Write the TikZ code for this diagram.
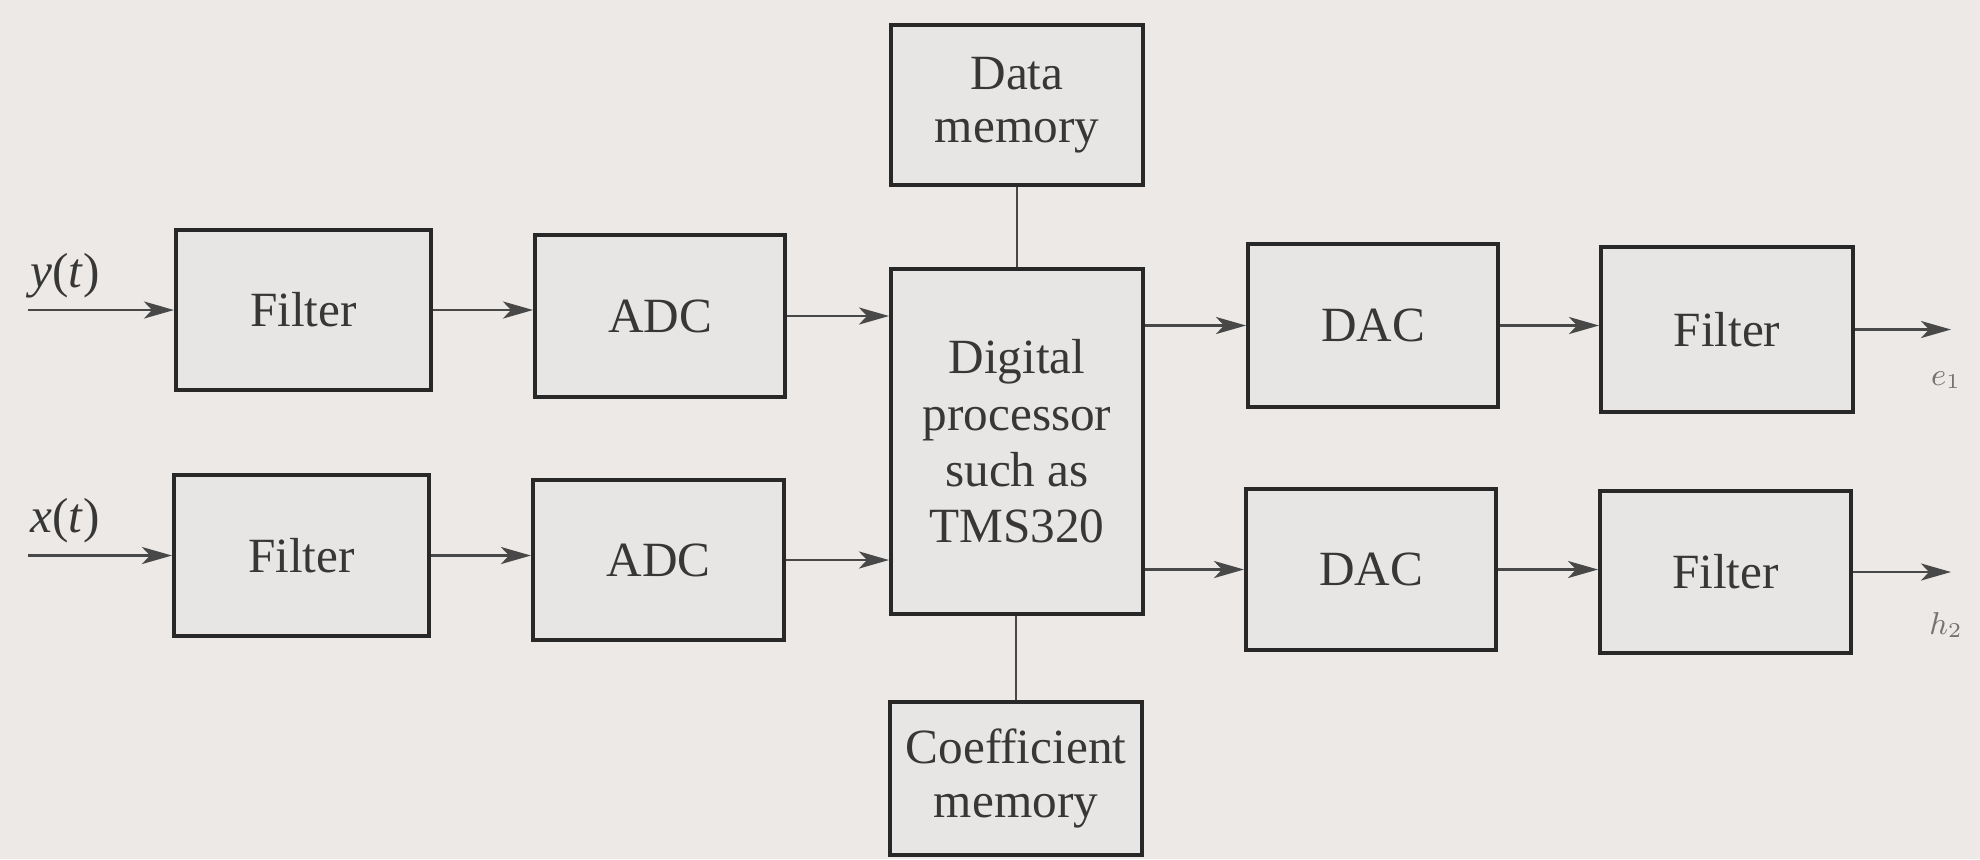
\documentclass[tikz,border=0pt]{standalone}
\usepackage{fontspec}
\setmainfont{Liberation Serif}
\usetikzlibrary{arrows.meta}
\definecolor{bg}{RGB}{236,233,230}
\definecolor{boxfill}{RGB}{232,230,228}
\definecolor{ink}{RGB}{40,40,40}
\definecolor{txt}{RGB}{55,55,55}
\tikzset{
  blk/.style={draw=ink, line width=1.1pt, fill=boxfill, inner sep=0pt, align=center,
    text=txt, font=\fontsize{14}{15.5}\selectfont},
  sig/.style={draw=ink!85, line width=0.8pt, -{Stealth[length=3mm,width=1.7mm,inset=0.8mm]}},
  lnk/.style={draw=ink!85, line width=0.8pt},
  lbl/.style={text=txt, inner sep=0pt, font=\fontsize{14}{15}\selectfont},
  olbl/.style={text=txt!70, inner sep=0pt, font=\fontsize{9}{10}\selectfont},
}
\begin{document}
\begin{tikzpicture}[x=0.01cm,y=-0.01cm]
\fill[bg] (0,0) rectangle (1980,859);
\useasboundingbox (0,0) rectangle (1980,859);

\node[blk, minimum width=2.55cm, minimum height=1.60cm] (f1) at (303.5,310) {Filter};
\node[blk, minimum width=2.50cm, minimum height=1.62cm] (adc1) at (660,316) {ADC};
\node[blk, minimum width=2.55cm, minimum height=1.61cm] (f2) at (301.5,555.5) {Filter};
\node[blk, minimum width=2.51cm, minimum height=1.60cm] (adc2) at (658.5,560) {ADC};
\node[blk, minimum width=2.52cm, minimum height=1.60cm, font=\fontsize{14}{15}\selectfont] (dm) at (1017,105) {Data\\memory};
\node[blk, minimum width=2.52cm, minimum height=3.45cm, font=\fontsize{14}{16}\selectfont] (proc) at (1017,441.5) {Digital\\processor\\such as\\TMS320};
\node[blk, minimum width=2.52cm, minimum height=1.53cm, font=\fontsize{14}{15.3}\selectfont] (cm) at (1016,778.5) {Coefficient\\memory};
\node[blk, minimum width=2.50cm, minimum height=1.63cm] (dac1) at (1373,325.5) {DAC};
\node[blk, minimum width=2.52cm, minimum height=1.65cm] (f3) at (1727,329.5) {Filter};
\node[blk, minimum width=2.50cm, minimum height=1.61cm] (dac2) at (1371,569.5) {DAC};
\node[blk, minimum width=2.51cm, minimum height=1.62cm] (f4) at (1725.5,572) {Filter};

\coordinate (in1) at (28,310);
\coordinate (in2) at (28,555.5);
\coordinate (out1) at (1951,329.5);
\coordinate (out2) at (1951,572);

\node[lbl] (ly) at (65,276) {\textit{y}(\textit{t})};
\node[lbl] (lx) at (65,521) {\textit{x}(\textit{t})};
\node[olbl] (le) at (1946,380) {$e_1$};
\node[olbl] (lh) at (1946,625) {$h_2$};

\draw[sig] (in1) -- (f1.west);
\draw[sig] (f1.east) -- (f1.east -| adc1.west);
\draw[sig] (adc1.east) -- (adc1.east -| proc.west);
\draw[sig] (proc.east |- dac1.west) -- (dac1.west);
\draw[sig] (dac1.east) -- (dac1.east -| f3.west);
\draw[sig] (f3.east) -- (out1);

\draw[sig] (in2) -- (f2.west);
\draw[sig] (f2.east) -- (f2.east -| adc2.west);
\draw[sig] (adc2.east) -- (adc2.east -| proc.west);
\draw[sig] (proc.east |- dac2.west) -- (dac2.west);
\draw[sig] (dac2.east) -- (dac2.east -| f4.west);
\draw[sig] (f4.east) -- (out2);

\draw[lnk] (dm.south) -- (proc.north);
\draw[lnk] (proc.south -| cm.north) -- (cm.north);
\end{tikzpicture}
\end{document}
